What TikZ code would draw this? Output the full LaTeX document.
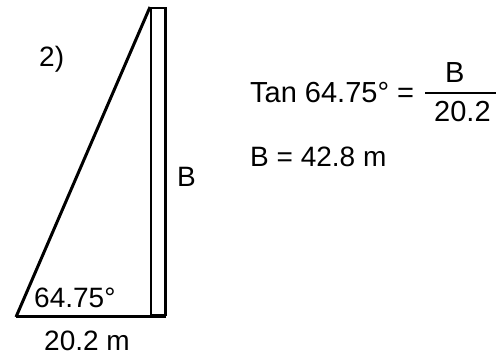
\documentclass[tikz,border=0pt]{standalone}
\usepackage{fontspec}
\setmainfont{Liberation Sans}
\usepackage{tikz}
\usetikzlibrary{positioning}

\begin{document}
\begin{tikzpicture}[
    x=1pt, y=-1pt,
    label text/.style={font=\fontsize{28}{32}\selectfont, inner sep=0pt, anchor=base west},
    eq text/.style={font=\fontsize{29}{33}\selectfont, inner sep=0pt, anchor=base west},
    side/.style={draw, line width=3pt, line cap=butt},
    pole/.style={draw, line width=2.3pt}
  ]
  \useasboundingbox (0,0) rectangle (501,358);

  % Triangle corners
  \coordinate (foot) at (16,317);
  \coordinate (top) at (150,7);
  \coordinate (base end) at (166,317);

  % Pole
  \draw[pole] (151,8) rectangle (165.5,315);

  % Sides
  \draw[side] (foot) -- (top);
  \draw[side] (foot) -- (base end);

  % Labels
  \node[label text] (num) at (39,67) {2)};
  \node[label text] (height) at (177,187) {B};
  \node[label text] (angle) at (34,308) {64.75°};
  \node[label text] (width) at (44,350) {20.2 m};

  % Equations
  \node[eq text] (tan) at (250,103) {Tan 64.75° =};
  \node[eq text] (frac top) at (445,83) {B};
  \node[eq text] (frac bot) at (434,122) {20.2};
  \coordinate (bar left) at (425,93);
  \coordinate (bar right) at (496,93);
  \draw[line width=2.2pt] (bar left) -- (bar right);
  \node[label text] (result) at (250,167) {B = 42.8 m};
\end{tikzpicture}
\end{document}
